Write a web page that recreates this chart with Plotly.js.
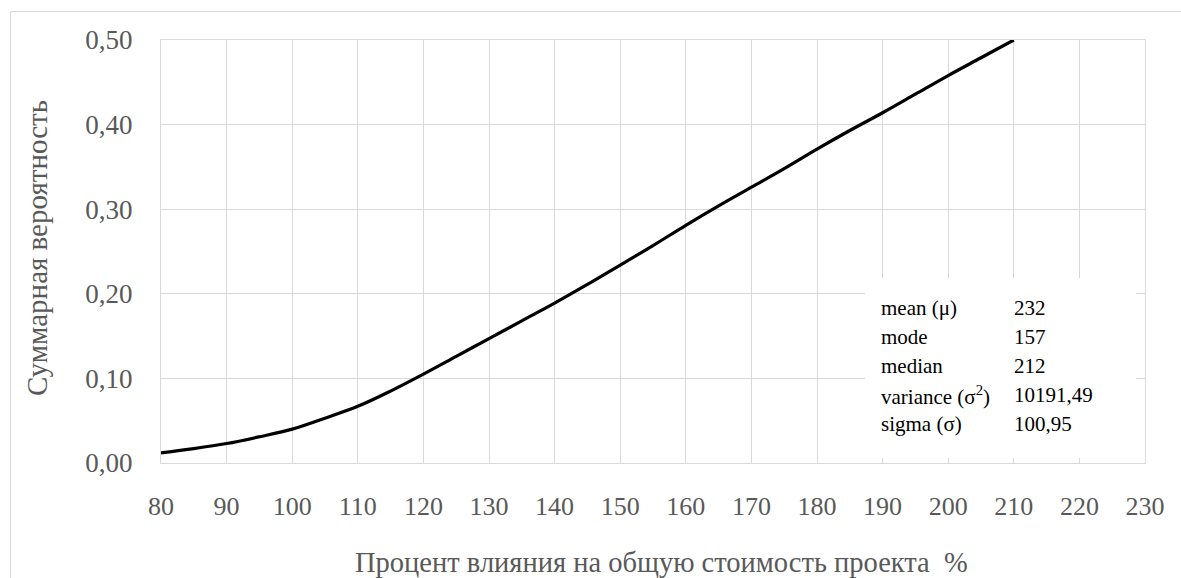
<!DOCTYPE html>
<html>
<head>
<meta charset="utf-8">
<script src="https://cdn.plot.ly/plotly-3.0.1.min.js"></script>
<style>html,body{margin:0;padding:0;background:#fff;}#chart{width:1181px;height:578px;}</style>
</head>
<body>
<div id="chart"></div>
<script>
// Data
const percentImpact = [80, 85, 90, 95, 100, 105, 110, 115, 120, 125, 130, 135, 140, 145, 150, 155, 160, 165, 170, 175, 180, 185, 190, 195, 200, 205, 210];
const cumulativeProb = [0.012, 0.017, 0.023, 0.031, 0.040, 0.053, 0.067, 0.085, 0.105, 0.126, 0.147, 0.168, 0.189, 0.211, 0.234, 0.257, 0.281, 0.304, 0.326, 0.348, 0.371, 0.393, 0.414, 0.436, 0.458, 0.479, 0.500];
const xTicks = [80, 90, 100, 110, 120, 130, 140, 150, 160, 170, 180, 190, 200, 210, 220, 230];
const yTicks = [0, 0.1, 0.2, 0.3, 0.4, 0.5];
const statLabels = ["mean (μ)", "mode", "median", "variance (σ<sup>2</sup>)", "sigma (σ)"];
const statValues = ["232", "157", "212", "10191,49", "100,95"];

const W = 1181, H = 578;
const L = 161, R = 1145, T = 40, B = 463;
const px = x => (x - L) / (R - L);
const py = y => (B - y) / (B - T);

const FONT = "Liberation Serif";
const GRID = "#d9d9d9";
const TXT = "#595959";

const annotations = [
  {text: "Суммарная вероятность", xref: "paper", yref: "paper", x: px(37), y: py(248),
   textangle: -90, showarrow: false, font: {family: FONT, size: 29, color: TXT}, xanchor: "center", yanchor: "middle"},
  {text: "Процент влияния на общую стоимость проекта  %", xref: "paper", yref: "paper", x: px(661), y: py(562),
   showarrow: false, font: {family: FONT, size: 28.5, color: TXT}, xanchor: "center", yanchor: "middle"}
];
const rowY = [308, 337, 366, 395, 424];
statLabels.forEach((s, i) => {
  annotations.push({text: s, xref: "paper", yref: "paper", x: px(879), y: py(rowY[i]), showarrow: false,
    xanchor: "left", yanchor: "middle", font: {family: FONT, size: 21, color: "#000"}});
  annotations.push({text: statValues[i], xref: "paper", yref: "paper", x: px(1012), y: py(rowY[i]), showarrow: false,
    xanchor: "left", yanchor: "middle", font: {family: FONT, size: 21, color: "#000"}});
});

const trace = {
  x: percentImpact, y: cumulativeProb, type: "scatter", mode: "lines",
  line: {color: "#000", width: 3.2, shape: "spline", smoothing: 1},
  hoverinfo: "skip"
};

const layout = {
  width: W, height: H,
  margin: {l: L, r: W - R, t: T, b: H - B, pad: 0},
  paper_bgcolor: "#fff", plot_bgcolor: "#fff",
  separators: ", ",
  showlegend: false,
  font: {family: FONT},
  xaxis: {
    range: [80, 230], tickvals: xTicks, ticktext: xTicks.map(String),
    showgrid: true, gridcolor: GRID, gridwidth: 1,
    showline: true, linecolor: GRID, linewidth: 1, mirror: true,
    zeroline: false, ticks: "outside", ticklen: 20, tickcolor: "rgba(0,0,0,0)",
    tickfont: {family: FONT, size: 26, color: TXT}, fixedrange: true
  },
  yaxis: {
    range: [0, 0.5], tickvals: yTicks, tickformat: ".2f",
    showgrid: true, gridcolor: GRID, gridwidth: 1,
    showline: true, linecolor: GRID, linewidth: 1, mirror: true,
    zeroline: false, ticks: "outside", ticklen: 22, tickcolor: "rgba(0,0,0,0)",
    tickfont: {family: FONT, size: 27, color: TXT}, fixedrange: true
  },
  shapes: [
    {type: "rect", xref: "paper", yref: "paper", x0: px(10.5), y0: py(700), x1: px(1300), y1: py(11.5),
     line: {color: GRID, width: 1}, fillcolor: "rgba(0,0,0,0)", layer: "below"},
    {type: "rect", xref: "paper", yref: "paper", x0: px(865), x1: px(1136), y0: py(458), y1: py(278),
     line: {width: 0}, fillcolor: "#fff", layer: "above"}
  ],
  annotations: annotations
};

Plotly.newPlot("chart", [trace], layout, {displayModeBar: false, staticPlot: true});
</script>
</body>
</html>
